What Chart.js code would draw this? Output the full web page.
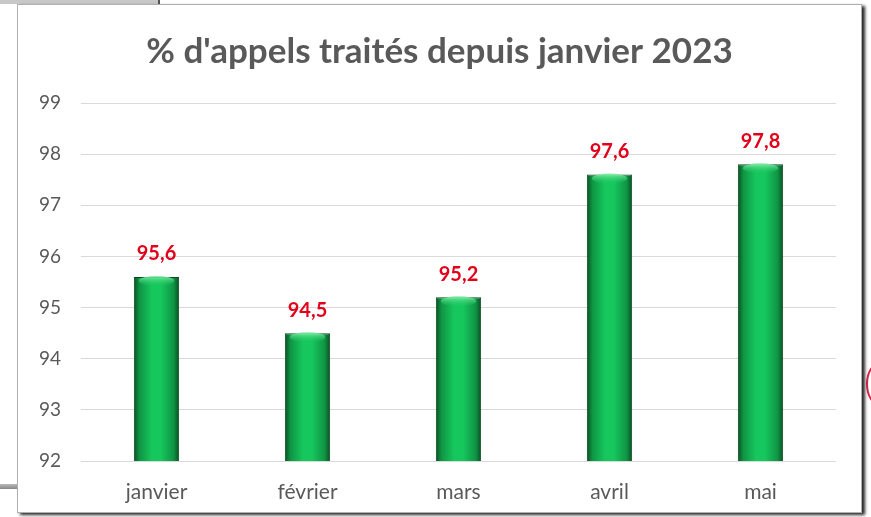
<!DOCTYPE html>
<html>
<head>
<meta charset="utf-8">
<script src="https://cdn.jsdelivr.net/npm/chart.js@4"></script>
<style>
  html, body { margin: 0; padding: 0; background: #fff; width: 871px; height: 517px; overflow: hidden; position: relative; }
  .bgTop { position: absolute; left: 0; top: 0; width: 158px; height: 4px; background: #c8c8c8; border-right: 2px solid #555; }
  .bgLeft { position: absolute; left: 0; top: 484px; width: 17px; height: 5px; background: linear-gradient(#bbb, #888); }
  .redMark { position: absolute; left: 866px; top: 362px; width: 24px; height: 40px; border: 2px solid #e0224a; border-radius: 50%; }
  .frame { position: absolute; left: 17px; top: 4px; width: 843px; height: 507px; background: #fff;
           border: 1px solid #b0b0b0; box-shadow: 3px 2px 3px rgba(0,0,0,0.85); }
  .frame canvas { position: absolute; left: 0; top: 0; }
</style>
</head>
<body>
<div class="bgTop"></div>
<div class="bgLeft"></div>
<div class="redMark"></div>
<div class="frame">
  <canvas id="barChart" width="843" height="507"></canvas>
</div>
<script>
  const months = ["janvier", "février", "mars", "avril", "mai"];
  const pctTraites = [95.6, 94.5, 95.2, 97.6, 97.8];
  const yTicks = [92, 93, 94, 95, 96, 97, 98, 99];

  const chartTitle = "% d'appels traités depuis janvier 2023";
  const fontFam = "Lato, 'Open Sans', sans-serif";

  function barGradient(context) {
    const chart = context.chart;
    const xScale = chart.scales.x;
    if (!chart.chartArea || !xScale) return "#00b050";
    const cx = xScale.getPixelForValue(context.dataIndex);
    const w = (chart.chartArea.right - chart.chartArea.left) / months.length * 0.3;
    const g = chart.ctx.createLinearGradient(cx - w / 2, 0, cx + w / 2, 0);
    g.addColorStop(0, "#0a4f22");
    g.addColorStop(0.12, "#0f9444");
    g.addColorStop(0.4, "#16c75d");
    g.addColorStop(0.6, "#16c75d");
    g.addColorStop(0.88, "#0f9444");
    g.addColorStop(1, "#0a4f22");
    return g;
  }

  // petite bosse claire en haut des barres + étiquettes rouges
  const barDecor = {
    id: "barDecor",
    afterDatasetsDraw(chart) {
      const ctx = chart.ctx;
      const meta = chart.getDatasetMeta(0);
      meta.data.forEach((bar, i) => {
        const w = bar.width;
        ctx.save();
        const g = ctx.createLinearGradient(0, bar.y, 0, bar.y + 10);
        g.addColorStop(0, "rgba(120,235,160,0.9)");
        g.addColorStop(1, "rgba(20,194,90,0)");
        ctx.fillStyle = g;
        ctx.beginPath();
        ctx.ellipse(bar.x, bar.y + 4, w / 2 - 5, 5, 0, 0, Math.PI * 2);
        ctx.fill();
        ctx.restore();

        ctx.save();
        ctx.fillStyle = "#e3001b";
        ctx.font = "bold 20px " + fontFam;
        ctx.textAlign = "center";
        ctx.textBaseline = "middle";
        ctx.fillText(pctTraites[i].toFixed(1).replace(".", ","), bar.x, bar.y - 23);
        ctx.restore();
      });
    }
  };

  const barChartData = {
    labels: months,
    datasets: [
      {
        data: pctTraites,
        backgroundColor: barGradient,
        borderColor: "#0a4a20",
        borderWidth: 1,
        barPercentage: 0.3,
        categoryPercentage: 1,
      },
    ],
  };

  const barChartCtx = document.getElementById("barChart").getContext("2d");
  const barChart = new Chart(barChartCtx, {
    type: "bar",
    data: barChartData,
    plugins: [barDecor],
    options: {
      responsive: false,
      animation: false,
      layout: { padding: { left: 0, right: 0, top: 0, bottom: 6 } },
      plugins: {
        legend: { display: false },
        tooltip: { enabled: false },
        title: {
          display: true,
          text: chartTitle,
          color: "#595959",
          font: { family: fontFam, size: 35, weight: "bold" },
          padding: { top: 26, bottom: 30 },
        },
      },
      scales: {
        x: {
          afterFit(scale) { scale.height = 45; },
          grid: { display: false, drawTicks: false },
          border: { display: false },
          ticks: { color: "#595959", font: { family: fontFam, size: 21 }, padding: 19 },
        },
        y: {
          min: 92,
          max: 99,
          afterBuildTicks(scale) {
            scale.ticks = yTicks.map(v => ({ value: v }));
          },
          afterFit(scale) { scale.width = 63; },
          grid: { color: "#d9d9d9", lineWidth: 1, drawTicks: false },
          border: { display: false },
          ticks: { color: "#595959", font: { family: fontFam, size: 19 }, padding: 20 },
        },
        // marge droite vide, pour garder le titre centré sur tout le cadre
        yRight: {
          position: "right",
          min: 92,
          max: 99,
          afterFit(scale) { scale.width = 25; },
          grid: { display: false, drawTicks: false },
          border: { display: false },
          ticks: { display: false },
        },
      },
    },
  });
</script>
</body>
</html>
